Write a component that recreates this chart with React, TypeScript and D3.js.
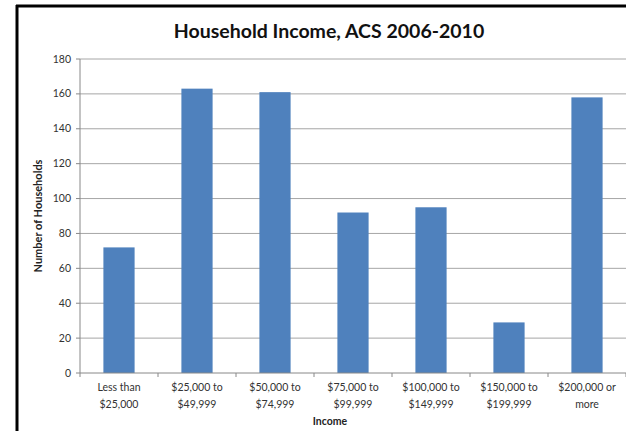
import React from "react";
import * as d3 from "d3";

const categories = [
  ["Less than", "$25,000"],
  ["$25,000 to", "$49,999"],
  ["$50,000 to", "$74,999"],
  ["$75,000 to", "$99,999"],
  ["$100,000 to", "$149,999"],
  ["$150,000 to", "$199,999"],
  ["$200,000 or", "more"],
];
const values = [72, 163, 161, 92, 95, 29, 158];
const yTicks = [0, 20, 40, 60, 80, 100, 120, 140, 160, 180];

const W = 626;
const H = 431;
const FONT = "Lato, 'Open Sans', sans-serif";

export default function App() {
  const left = 80, right = 626, top = 59, bottom = 373;
  const x = d3.scaleBand<number>().domain(d3.range(values.length)).range([left, right]).paddingInner(0.6).paddingOuter(0.3);
  const xb = d3.scaleBand<number>().domain(d3.range(values.length)).range([left, right]);
  const y = d3.scaleLinear().domain([0, 180]).range([bottom, top]);

  return (
    <svg width={W} height={H} style={{ position: "absolute", left: 0, top: 0, background: "#fff" }}>
      <rect x={0} y={0} width={W} height={H} fill="#fff" />
      {/* border */}
      <line x1={17} y1={5} x2={17} y2={H} stroke="#000" strokeWidth={3} />
      <line x1={16} y1={6} x2={W} y2={6} stroke="#000" strokeWidth={3} />
      <text x={329} y={38} textAnchor="middle" fontFamily={FONT} fontWeight="bold" fontSize={19.5} fill="#111">
        Household Income, ACS 2006-2010
      </text>
      {/* gridlines */}
      {yTicks.map((t) => (
        <g key={t}>
          {t > 0 && <line x1={left} x2={right} y1={y(t)} y2={y(t)} stroke="#a6a6a6" strokeWidth={1} />}
          <line x1={left - 4} x2={left} y1={y(t)} y2={y(t)} stroke="#888" strokeWidth={1} />
          <text x={left - 9} y={y(t) + 3.5} textAnchor="end" fontFamily={FONT} fontSize={10.5} fill="#333">
            {t}
          </text>
        </g>
      ))}
      {/* bars */}
      {values.map((v, i) => (
        <rect key={i} x={x(i)} y={y(v)} width={x.bandwidth()} height={y(0) - y(v)} fill="#4f81bd" />
      ))}
      {/* axes */}
      <line x1={left} x2={left} y1={top} y2={bottom} stroke="#888" strokeWidth={1} />
      <line x1={left} x2={right} y1={bottom} y2={bottom} stroke="#888" strokeWidth={1} />
      {d3.range(values.length + 1).map((i) => {
        const xx = i < values.length ? (xb(i) as number) : right;
        return <line key={i} x1={xx} x2={xx} y1={bottom} y2={bottom + 4} stroke="#888" strokeWidth={1} />;
      })}
      {categories.map((c, i) => {
        const cx = (xb(i) as number) + xb.bandwidth() / 2;
        return (
          <text key={i} textAnchor="middle" fontFamily={FONT} fontSize={10.5} fill="#333">
            <tspan x={cx} y={391}>{c[0]}</tspan>
            <tspan x={cx} y={408}>{c[1]}</tspan>
          </text>
        );
      })}
      <text x={330} y={425} textAnchor="middle" fontFamily={FONT} fontWeight="bold" fontSize={10.5} fill="#222">
        Income
      </text>
      <text transform={`translate(42,${(top + bottom) / 2}) rotate(-90)`} textAnchor="middle" fontFamily={FONT} fontWeight="bold" fontSize={11} fill="#222">
        Number of Households
      </text>
    </svg>
  );
}
